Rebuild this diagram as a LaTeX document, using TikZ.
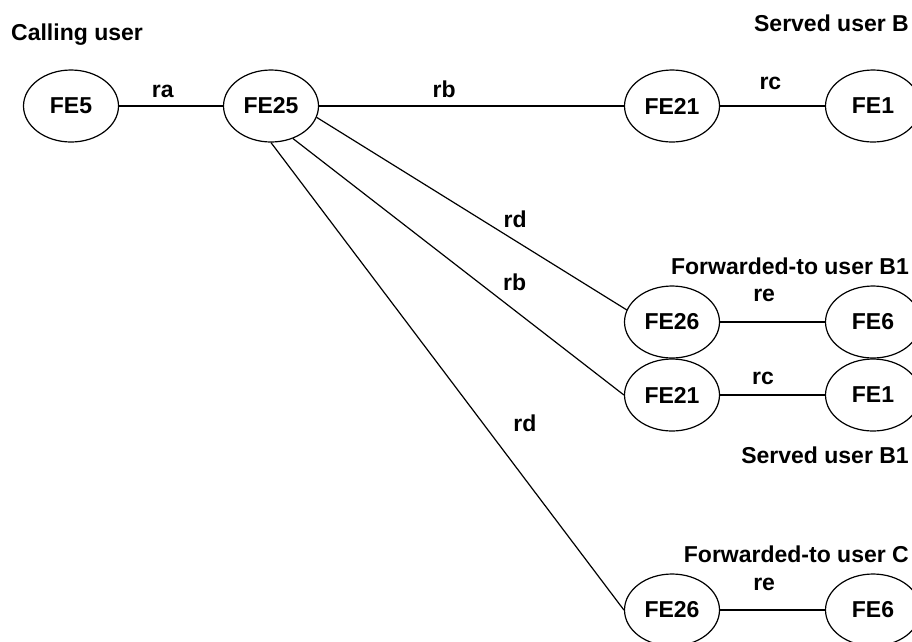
\documentclass[tikz,border=0pt]{standalone}
\usepackage{fontspec}
\setmainfont{Liberation Sans}
\usetikzlibrary{shapes.geometric,positioning}

\tikzstyle{fe}=[ellipse,draw,line width=1.2pt,minimum width=95pt,minimum height=72pt,inner sep=0pt,font=\fontsize{23}{27}\selectfont\bfseries]
\tikzstyle{link}=[draw,line width=1.2pt,-]
\tikzstyle{ref}=[inner sep=2pt,font=\fontsize{23}{27}\selectfont\bfseries]
\tikzstyle{user}=[inner sep=0pt,anchor=base east,font=\fontsize{23}{27}\selectfont\bfseries]

\begin{document}
\begin{tikzpicture}[x=1pt,y=-1pt]
      \useasboundingbox (0,0) rectangle (912,641);
      %nodes
      \foreach \nodename/\x/\y/\name in {
        fe5/71/106/FE5,
        fe25/271/106/FE25,
        fe21/672/106/FE21,
        fe1/873/106/FE1,
        fe26b/672/322/FE26,
        fe6b/873/322/FE6,
        fe21b/672/395/FE21,
        fe1b/873/395/FE1,
        fe26c/672/610/FE26,
        fe6c/873/610/FE6}
      {
        \node[fe] (\nodename) at (\x,\y) {\name};
      };
      %users
      \node[user,anchor=base west] (calling) at (11,40) {Calling user};
      \node[user] (servedB) at (909,31) {Served user B};
      \node[user] (forwardB1) at (909,274) {Forwarded-to user B1};
      \node[user] (servedB1) at (909,463) {Served user B1};
      \node[user] (forwardC) at (909,562) {Forwarded-to user C};
      %edges
      \path
      \foreach \startnode/\endnode/\where/\gap/\ref in {
        fe5/fe25/0.42/6pt/ra, fe25/fe21/0.41/6pt/rb, fe21/fe1/0.48/14pt/rc,
        fe25.-14/fe26b.165/0.64/10pt/rd, fe25.-56/fe21b.west/0.67/17pt/rb,
        fe26b/fe6b/0.42/18pt/re, fe21b/fe1b/0.41/8pt/rc, fe26c/fe6c/0.42/17pt/re}
      {
        (\startnode) edge[link] node[ref,pos=\where,above=\gap] {\ref} (\endnode)
      };
      \path (fe25.south) edge[link] node[ref,pos=0.6,right=28pt] {rd} (fe26c.west);
\end{tikzpicture}
\end{document}
